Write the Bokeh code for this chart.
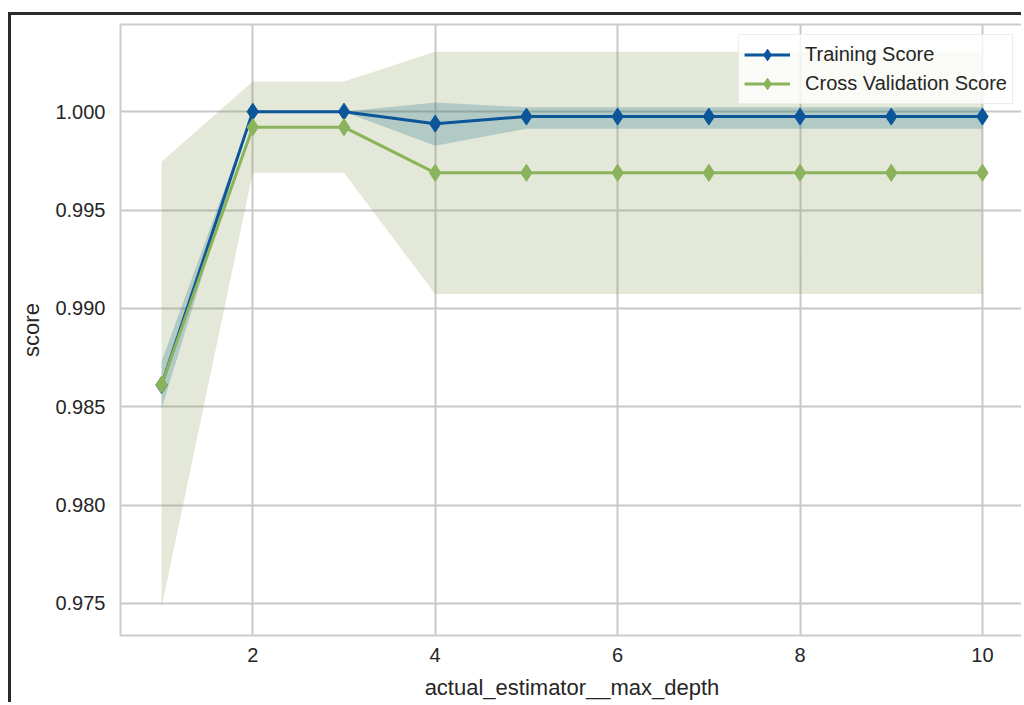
from bokeh.plotting import figure
from bokeh.models import (ColumnDataSource, FixedTicker, PrintfTickFormatter,
                          Range1d, Legend, LegendItem)
from bokeh.embed import file_html
from bokeh.resources import INLINE

# ---- data ----
depths = [1, 2, 3, 4, 5, 6, 7, 8, 9, 10]
train_mean = [0.98610, 1.00000, 1.00000, 0.99939, 0.99975, 0.99975, 0.99975, 0.99975, 0.99975, 0.99975]
train_lower = [0.98490, 1.00000, 1.00000, 0.99827, 0.99913, 0.99913, 0.99913, 0.99913, 0.99913, 0.99913]
train_upper = [0.98730, 1.00000, 1.00000, 1.00046, 1.00022, 1.00022, 1.00022, 1.00022, 1.00022, 1.00022]
cv_mean = [0.98612, 0.99921, 0.99921, 0.99689, 0.99689, 0.99689, 0.99689, 0.99689, 0.99689, 0.99689]
cv_lower = [0.97480, 0.99689, 0.99689, 0.99073, 0.99073, 0.99073, 0.99073, 0.99073, 0.99073, 0.99073]
cv_upper = [0.99745, 1.00153, 1.00153, 1.00305, 1.00305, 1.00305, 1.00305, 1.00305, 1.00305, 1.00305]
x_ticks = [2, 4, 6, 8, 10]
y_ticks = [0.975, 0.980, 0.985, 0.990, 0.995, 1.000]
series_names = ["Training Score", "Cross Validation Score"]

BLUE = "#0b5599"
GREEN = "#8ab35c"
CV_BAND = "#84964e"
TR_BAND = "#1a6e8e"
FONT = "Liberation Sans"
TXT = "#262626"

src = ColumnDataSource(dict(x=depths, tm=train_mean, tl=train_lower, tu=train_upper,
                            cm=cv_mean, cl=cv_lower, cu=cv_upper))

p = figure(width=1013, height=690, output_backend="svg", toolbar_location=None,
           x_range=Range1d(0.55, 10.45), y_range=Range1d(0.97337, 1.00443),
           min_border_left=109, min_border_right=1, min_border_top=9, min_border_bottom=70)
p.styles = {"border-top": "3px solid #2a2a2a", "border-left": "3px solid #2a2a2a",
            "margin-top": "12px", "margin-left": "8px"}

p.background_fill_color = "white"
p.border_fill_color = "white"
p.outline_line_color = "#cccccc"
p.outline_line_width = 2

# bands
p.varea(x="x", y1="cl", y2="cu", source=src, fill_color=CV_BAND, fill_alpha=0.22)
p.varea(x="x", y1="tl", y2="tu", source=src, fill_color=TR_BAND, fill_alpha=0.25)

# lines + markers
tl = p.line("x", "tm", source=src, line_color=BLUE, line_width=3)
ts = p.scatter("x", "tm", source=src, marker="diamond", size=17, fill_color=BLUE, line_color=BLUE)
cl = p.line("x", "cm", source=src, line_color=GREEN, line_width=3)
cs = p.scatter("x", "cm", source=src, marker="diamond", size=17, fill_color=GREEN, line_color=GREEN)

# axes
for ax in (p.xaxis[0], p.yaxis[0]):
    ax.axis_line_color = None
    ax.major_tick_line_color = None
    ax.minor_tick_line_color = None
    ax.major_tick_out = 0
    ax.major_tick_in = 0
    ax.minor_tick_out = 0
    ax.minor_tick_in = 0
    ax.major_label_text_font = FONT
    ax.major_label_text_font_size = "20px"
    ax.major_label_text_color = TXT
    ax.axis_label_text_font = FONT
    ax.axis_label_text_font_size = "22px"
    ax.axis_label_text_font_style = "normal"
    ax.axis_label_text_color = TXT

p.xaxis.ticker = FixedTicker(ticks=x_ticks)
p.yaxis.ticker = FixedTicker(ticks=y_ticks)
p.yaxis.formatter = PrintfTickFormatter(format="%.3f")
p.xaxis.axis_label = "actual_estimator__max_depth"
p.yaxis.axis_label = "score"
p.xaxis.major_label_standoff = 12
p.xaxis.axis_label_standoff = 10
p.yaxis.major_label_standoff = 15
p.yaxis.axis_label_standoff = 8

p.xgrid.grid_line_color = "#c8c8c8"
p.ygrid.grid_line_color = "#c8c8c8"
p.xgrid.grid_line_width = 2
p.ygrid.grid_line_width = 2

legend = Legend(items=[LegendItem(label=series_names[0], renderers=[tl, ts]),
                       LegendItem(label=series_names[1], renderers=[cl, cs])],
                location="top_right")
legend.label_text_font = FONT
legend.label_text_font_size = "20px"
legend.label_text_color = TXT
legend.glyph_width = 46
legend.glyph_height = 29
legend.label_height = 29
legend.spacing = 0
legend.padding = 5
legend.margin = 10
legend.label_standoff = 15
legend.border_line_color = "#dddddd"
legend.border_line_width = 1
legend.background_fill_color = "white"
legend.background_fill_alpha = 0.8
p.add_layout(legend)

open("out.html", "w").write(file_html(p, INLINE))
